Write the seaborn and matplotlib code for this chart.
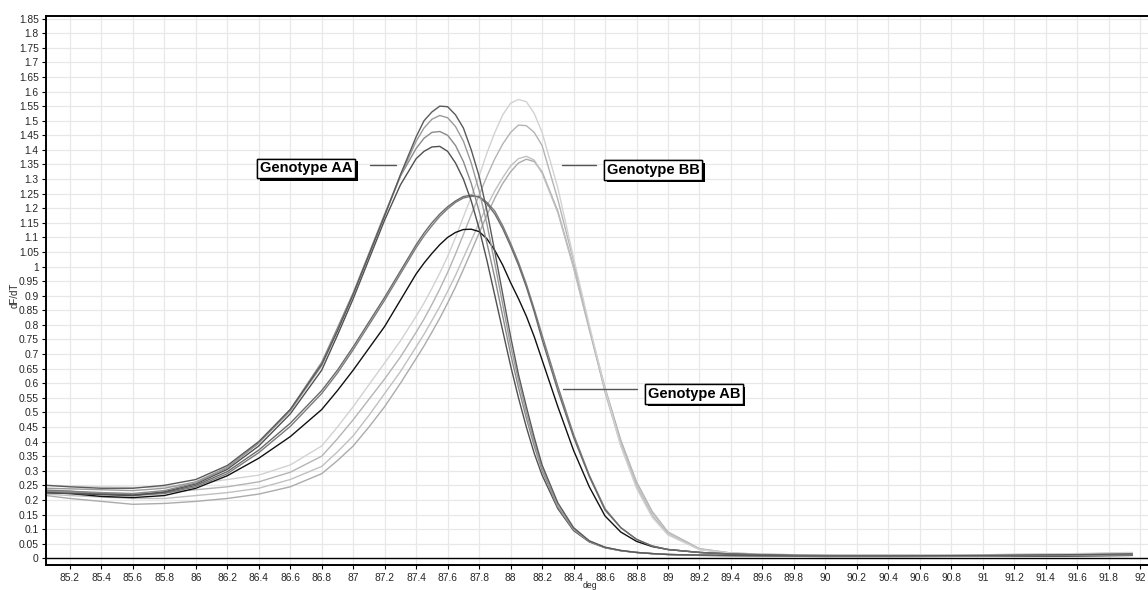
import numpy as np
import pandas as pd
import matplotlib
matplotlib.use("Agg")
import matplotlib.pyplot as plt
import matplotlib.patheffects as pe
import seaborn as sns

# ---------------- data ----------------
temps = [85.05, 85.2, 85.4, 85.6, 85.8, 86.0, 86.2, 86.4, 86.6, 86.8,
         86.9, 87.0, 87.1, 87.2, 87.3,
         87.4, 87.45, 87.5, 87.55, 87.6, 87.65, 87.7, 87.75, 87.8, 87.85,
         87.9, 87.95, 88.0, 88.05, 88.1, 88.15, 88.2,
         88.3, 88.4, 88.5, 88.6, 88.7, 88.8, 88.9, 89.0,
         89.2, 89.4, 89.6, 89.8, 90.0, 90.5, 91.0, 91.5, 91.95]

aa1 = [0.250, 0.245, 0.240, 0.240, 0.250, 0.270, 0.318, 0.400, 0.510, 0.665,
       0.780, 0.905, 1.040, 1.175, 1.315,
       1.445, 1.500, 1.530, 1.550, 1.548, 1.520, 1.475, 1.400, 1.310, 1.190,
       1.050, 0.905, 0.760, 0.630, 0.520, 0.415, 0.320,
       0.190, 0.105, 0.060, 0.038, 0.027, 0.020, 0.016, 0.013,
       0.011, 0.010, 0.009, 0.008, 0.008, 0.008, 0.010, 0.012, 0.015]
aa2 = [0.240, 0.238, 0.235, 0.232, 0.240, 0.262, 0.312, 0.395, 0.505, 0.660,
       0.780, 0.905, 1.040, 1.175, 1.310,
       1.430, 1.475, 1.505, 1.518, 1.510, 1.480, 1.430, 1.355, 1.260, 1.145,
       1.010, 0.870, 0.730, 0.610, 0.500, 0.400, 0.310,
       0.180, 0.100, 0.058, 0.037, 0.026, 0.020, 0.016, 0.013,
       0.011, 0.009, 0.008, 0.008, 0.007, 0.007, 0.009, 0.011, 0.013]
aa3 = [0.230, 0.228, 0.225, 0.222, 0.232, 0.258, 0.310, 0.395, 0.510, 0.672,
       0.790, 0.910, 1.045, 1.180, 1.310,
       1.405, 1.440, 1.460, 1.463, 1.450, 1.415, 1.360, 1.285, 1.190, 1.080,
       0.960, 0.830, 0.700, 0.585, 0.480, 0.385, 0.300,
       0.175, 0.098, 0.058, 0.037, 0.026, 0.020, 0.016, 0.013,
       0.010, 0.009, 0.008, 0.007, 0.007, 0.007, 0.008, 0.010, 0.012]
aa4 = [0.225, 0.222, 0.218, 0.215, 0.228, 0.255, 0.305, 0.385, 0.495, 0.645,
       0.765, 0.890, 1.025, 1.160, 1.280,
       1.370, 1.395, 1.410, 1.412, 1.395, 1.355, 1.300, 1.225, 1.130, 1.020,
       0.900, 0.780, 0.660, 0.550, 0.450, 0.360, 0.285,
       0.170, 0.095, 0.056, 0.036, 0.026, 0.020, 0.016, 0.013,
       0.010, 0.009, 0.008, 0.007, 0.006, 0.006, 0.007, 0.008, 0.010]

ab1 = [0.232, 0.230, 0.222, 0.218, 0.225, 0.250, 0.297, 0.371, 0.463, 0.575,
       0.645, 0.725, 0.810, 0.895, 0.985,
       1.075, 1.115, 1.150, 1.180, 1.205, 1.225, 1.240, 1.245, 1.238, 1.215,
       1.180, 1.130, 1.070, 1.005, 0.930, 0.845, 0.750,
       0.575, 0.415, 0.280, 0.165, 0.105, 0.065, 0.042, 0.030,
       0.020, 0.015, 0.012, 0.010, 0.009, 0.008, 0.009, 0.010, 0.012]
ab2 = [0.228, 0.225, 0.220, 0.215, 0.222, 0.245, 0.290, 0.362, 0.452, 0.565,
       0.635, 0.715, 0.800, 0.885, 0.975,
       1.065, 1.105, 1.140, 1.172, 1.198, 1.220, 1.235, 1.241, 1.240, 1.220,
       1.190, 1.140, 1.080, 1.015, 0.940, 0.855, 0.765,
       0.590, 0.425, 0.285, 0.170, 0.105, 0.065, 0.042, 0.030,
       0.020, 0.015, 0.012, 0.010, 0.009, 0.008, 0.008, 0.009, 0.011]
ab3 = [0.225, 0.222, 0.212, 0.208, 0.215, 0.240, 0.283, 0.343, 0.417, 0.510,
       0.575, 0.645, 0.720, 0.795, 0.885,
       0.975, 1.012, 1.045, 1.075, 1.100, 1.117, 1.127, 1.128, 1.120, 1.095,
       1.055, 1.005, 0.945, 0.890, 0.830, 0.760, 0.680,
       0.520, 0.370, 0.245, 0.145, 0.090, 0.058, 0.040, 0.030,
       0.020, 0.014, 0.011, 0.009, 0.008, 0.007, 0.007, 0.008, 0.010]

bb1 = [0.250, 0.248, 0.245, 0.243, 0.245, 0.255, 0.270, 0.285, 0.320, 0.385,
       0.450, 0.520, 0.595, 0.670, 0.745,
       0.830, 0.875, 0.925, 0.978, 1.035, 1.100, 1.170, 1.240, 1.310, 1.390,
       1.460, 1.520, 1.560, 1.573, 1.565, 1.525, 1.460,
       1.270, 1.030, 0.800, 0.580, 0.385, 0.240, 0.140, 0.080,
       0.030, 0.017, 0.013, 0.011, 0.010, 0.010, 0.012, 0.015, 0.020]
bb2 = [0.235, 0.230, 0.225, 0.220, 0.225, 0.235, 0.245, 0.262, 0.295, 0.350,
       0.410, 0.475, 0.545, 0.615, 0.690,
       0.775, 0.820, 0.870, 0.923, 0.980, 1.043, 1.110, 1.178, 1.245, 1.310,
       1.370, 1.420, 1.460, 1.485, 1.483, 1.460, 1.415,
       1.230, 1.020, 0.790, 0.570, 0.387, 0.246, 0.146, 0.082,
       0.030, 0.017, 0.013, 0.011, 0.010, 0.010, 0.011, 0.013, 0.017]
bb3 = [0.220, 0.215, 0.210, 0.205, 0.205, 0.215, 0.225, 0.240, 0.270, 0.315,
       0.365, 0.420, 0.490, 0.565, 0.640,
       0.725, 0.768, 0.815, 0.863, 0.915, 0.970, 1.030, 1.090, 1.150, 1.208,
       1.260, 1.305, 1.345, 1.370, 1.378, 1.365, 1.320,
       1.185, 0.995, 0.783, 0.576, 0.398, 0.257, 0.156, 0.088,
       0.032, 0.018, 0.014, 0.012, 0.011, 0.011, 0.012, 0.014, 0.018]
bb4 = [0.215, 0.205, 0.195, 0.185, 0.188, 0.195, 0.205, 0.220, 0.245, 0.290,
       0.335, 0.385, 0.450, 0.520, 0.600,
       0.685, 0.728, 0.775, 0.823, 0.875, 0.930, 0.990, 1.052, 1.115, 1.177,
       1.235, 1.285, 1.325, 1.355, 1.368, 1.360, 1.325,
       1.190, 1.000, 0.790, 0.585, 0.405, 0.262, 0.160, 0.090,
       0.033, 0.018, 0.014, 0.012, 0.011, 0.011, 0.012, 0.014, 0.018]

curve_names = ["AA1", "AA2", "AA3", "AA4", "AB1", "AB2", "AB3",
               "BB1", "BB2", "BB3", "BB4"]
curve_values = [aa1, aa2, aa3, aa4, ab1, ab2, ab3, bb1, bb2, bb3, bb4]
curve_colors = ["#5a5a5a", "#9a9a9a", "#8a8a8a", "#505050",
                "#6a6a6a", "#7c7c7c", "#101010",
                "#d2d2d2", "#b4b4b4", "#c0c0c0", "#ababab"]

x_ticks = [85.2, 85.4, 85.6, 85.8, 86, 86.2, 86.4, 86.6, 86.8, 87, 87.2, 87.4,
           87.6, 87.8, 88, 88.2, 88.4, 88.6, 88.8, 89, 89.2, 89.4, 89.6, 89.8,
           90, 90.2, 90.4, 90.6, 90.8, 91, 91.2, 91.4, 91.6, 91.8, 92]
y_ticks = [round(0.05 * i, 2) for i in range(38)]

labels = ["Genotype AA", "Genotype BB", "Genotype AB"]
label_pos = [(86.70, 1.337), (88.905, 1.331), (89.165, 0.563)]
leader_x = [(87.109, 87.274), (88.326, 88.542), (88.333, 88.802)]
leader_y = [1.348, 1.348, 0.580]

# ---------------- build long table ----------------
rows = []
for name, vals in zip(curve_names, curve_values):
    for t, v in zip(temps, vals):
        rows.append((name, t, v))
df = pd.DataFrame(rows, columns=["curve", "deg", "dFdT"])

sns.set_style("white")
plt.rcParams['font.family'] = ['Liberation Sans Narrow', 'Liberation Sans', 'DejaVu Sans']

fig = plt.figure(figsize=(11.48, 5.90), dpi=100)
ax = fig.add_axes([0.0398, 0.0424, 0.9602, 0.931])

ax.grid(True, color="#e8e8e8", linewidth=0.9)
ax.set_axisbelow(True)
ax.axhline(0, color="black", linewidth=1.0, zorder=1)

sns.lineplot(data=df, x="deg", y="dFdT", hue="curve",
             palette=dict(zip(curve_names, curve_colors)),
             hue_order=curve_names[::-1],
             linewidth=1.0, legend=False, sort=False, estimator=None, ax=ax)

ax.set_xlim(85.046, 92.05)
ax.set_ylim(-0.023, 1.86)
ax.set_xticks(x_ticks)
ax.set_xticklabels([f"{v:g}" for v in x_ticks])
ax.set_yticks(y_ticks)
ax.set_yticklabels([f"{v:g}" for v in y_ticks])
ax.tick_params(axis="both", labelsize=7.4, length=3, width=0.8,
               direction="out", color="black", pad=2, bottom=True, left=True)
ax.tick_params(axis="x", pad=3)
ax.set_xlabel("")
ax.set_ylabel("")
for side in ["left", "top", "bottom"]:
    ax.spines[side].set_color("black")
    ax.spines[side].set_linewidth(1.4)
ax.spines["right"].set_visible(False)

fig.text(0.013, 0.5, "dF/dT", rotation=90, fontsize=7, va="center", ha="center")
fig.text(0.5135, 0.0, "deg", fontsize=6.2, va="bottom", ha="center")

for (lx0, lx1), ly in zip(leader_x, leader_y):
    ax.plot([lx0, lx1], [ly, ly], color="#555555", linewidth=1.0, zorder=4)

for s, (x, y) in zip(labels, label_pos):
    t = ax.text(x, y, s, ha="center", va="center",
                fontsize=10.5, fontweight="bold", family="Liberation Sans",
                color="black",
                bbox=dict(boxstyle="square,pad=0.18", fc="white", ec="black", lw=1),
                zorder=6)
    t.get_bbox_patch().set_path_effects([
        pe.withSimplePatchShadow(offset=(1.9, -1.9), shadow_rgbFace="black", alpha=1.0),
        pe.Normal()])

fig.savefig("out.png", dpi=100)
